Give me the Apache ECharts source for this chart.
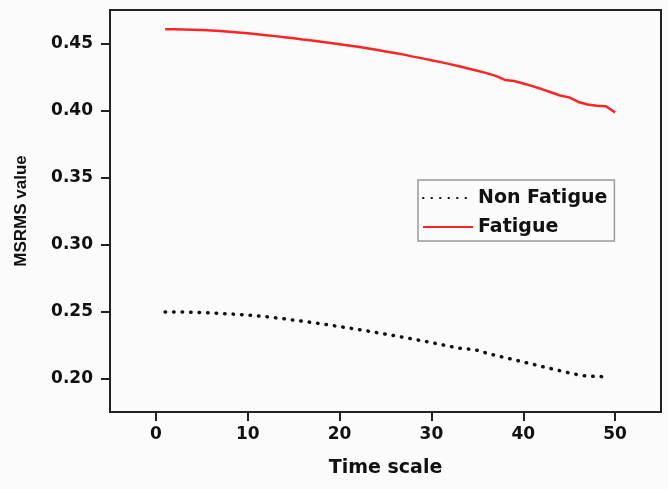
<!DOCTYPE html>
<html>
<head>
<meta charset="utf-8">
<script src="https://cdn.jsdelivr.net/npm/echarts@6/dist/echarts.min.js"></script>
<style>
html,body{margin:0;padding:0;background:#fbfbfb;}
#chart{width:668px;height:489px;}
</style>
</head>
<body>
<div id="chart"></div>
<script>
const seriesNames = ["Non Fatigue", "Fatigue"];
const timeNonFatigue = [1,2,3,4,5,6,7,8,9,10,11,12,13,14,15,16,17,18,19,20,21,22,23,24,25,26,27,28,29,30,31,32,33,34,35,36,37,38,39,40,41,42,43,44,45,46,47,48,49];
const nonFatigue = [0.2497,0.2497,0.2496,0.2494,0.2492,0.2489,0.2486,0.2482,0.2478,0.2473,0.2467,0.2461,0.2453,0.2445,0.2436,0.2427,0.2418,0.2408,0.2398,0.2387,0.2377,0.2366,0.2355,0.2343,0.2331,0.2319,0.2307,0.2294,0.2281,0.2268,0.2254,0.2240,0.2226,0.2220,0.2210,0.2190,0.2172,0.2156,0.2140,0.2123,0.2107,0.2090,0.2074,0.2058,0.2042,0.2027,0.2018,0.2015,0.2013];
const timeFatigue = [1,2,3,4,5,6,7,8,9,10,11,12,13,14,15,16,17,18,19,20,21,22,23,24,25,26,27,28,29,30,31,32,33,34,35,36,37,38,39,40,41,42,43,44,45,46,47,48,49,50];
const fatigue = [0.4607,0.4607,0.4605,0.4603,0.4600,0.4597,0.4593,0.4588,0.4582,0.4576,0.4569,0.4562,0.4555,0.4547,0.4539,0.4530,0.4522,0.4513,0.4504,0.4495,0.4485,0.4475,0.4464,0.4453,0.4441,0.4429,0.4417,0.4402,0.4389,0.4375,0.4361,0.4346,0.4330,0.4313,0.4297,0.4279,0.4258,0.4228,0.4220,0.4202,0.4182,0.4160,0.4136,0.4112,0.4098,0.4064,0.4045,0.4035,0.4032,0.3986];
const xTicks = [0,10,20,30,40,50];
const yTicks = [0.20,0.25,0.30,0.35,0.40,0.45];

const chart = echarts.init(document.getElementById('chart'), null, {renderer:'canvas'});
const labelFont = {fontFamily:'DejaVu Sans', fontWeight:'bold', fontSize:17, color:'#111'};
chart.setOption({
  backgroundColor:'#fbfbfb',
  animation:false,
  grid:{left:110, right:7, top:10, bottom:77, show:true, borderColor:'#222', borderWidth:2, backgroundColor:'transparent'},
  legend:{
    orient:'vertical', left:418, top:180,
    data:seriesNames,
    itemWidth:50, itemHeight:14, itemGap:9,
    padding:[8,7,4,4],
    borderColor:'#999', borderWidth:1.5, borderRadius:0,
    backgroundColor:'#fbfbfb',
    itemStyle:{opacity:0},
    textStyle:{fontFamily:'DejaVu Sans', fontWeight:'bold', fontSize:19, color:'#111', lineHeight:20}
  },
  xAxis:{
    type:'value', min:-5, max:55,
    name:'Time scale', nameLocation:'middle', nameGap:47,
    nameTextStyle:{fontFamily:'DejaVu Sans', fontWeight:'bold', fontSize:19, color:'#111'},
    splitLine:{show:false},
    axisLine:{show:true, onZero:false, lineStyle:{color:'#222', width:2}},
    axisTick:{show:true, length:9, lineStyle:{color:'#222', width:2}, customValues:xTicks},
    axisLabel:{...labelFont, margin:14, customValues:xTicks}
  },
  yAxis:{
    type:'value', min:0.175, max:0.475,
    name:'MSRMS value', nameLocation:'middle', nameGap:80, nameRotate:90,
    nameTextStyle:{fontFamily:'Liberation Sans', fontWeight:'bold', fontSize:17, color:'#111'},
    splitLine:{show:false},
    axisLine:{show:true, onZero:false, lineStyle:{color:'#222', width:2}},
    axisTick:{show:true, length:9, lineStyle:{color:'#222', width:2}, customValues:yTicks},
    axisLabel:{...labelFont, margin:17, customValues:yTicks, formatter:v=>v.toFixed(2)}
  },
  series:[
    {
      name:seriesNames[0], type:'line', symbol:'none', smooth:false,
      data:timeNonFatigue.map((t,i)=>[t, nonFatigue[i]]),
      lineStyle:{color:'#111', width:3.5, type:[0.5,8], cap:'round'},
      itemStyle:{color:'#111'}
    },
    {
      name:seriesNames[1], type:'line', symbol:'none', smooth:false,
      data:timeFatigue.map((t,i)=>[t, fatigue[i]]),
      lineStyle:{color:'#ff2424', width:2.5},
      itemStyle:{color:'#ff2424'}
    }
  ]
});
</script>
</body>
</html>
